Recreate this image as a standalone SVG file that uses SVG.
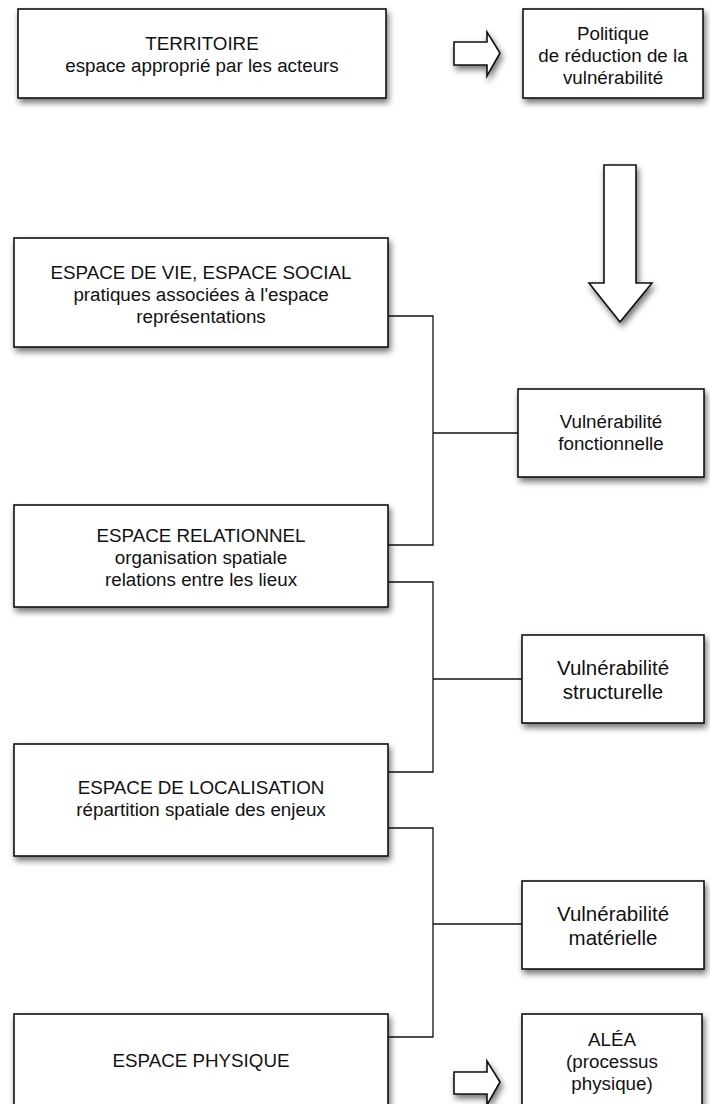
<svg xmlns="http://www.w3.org/2000/svg" width="710" height="1104" viewBox="0 0 710 1104">
<style>
.box{fill:#fff;stroke:#111;stroke-width:1.6;filter:url(#sh)}
.arr{fill:#fff;stroke:#111;stroke-width:1.6;stroke-linejoin:miter;filter:url(#sh)}
.t{font-family:"Liberation Sans",Arial,sans-serif;font-size:18.8px;fill:#111;text-anchor:middle}
.tl{font-family:"Liberation Sans",Arial,sans-serif;font-size:20.5px;fill:#111;text-anchor:middle}
.con{fill:none;stroke:#111;stroke-width:1.3}
</style>
<defs>
<filter id="sh" x="-20%" y="-20%" width="140%" height="150%">
<feDropShadow dx="2" dy="4" stdDeviation="3" flood-color="#000" flood-opacity="0.55"/>
</filter>
</defs>
<rect width="710" height="1104" fill="#fff"/>
<g id="connectors">
<polyline class="con" points="388,316 433,316 433,545 388,545"/>
<line class="con" x1="433" y1="433" x2="518" y2="433"/>
<polyline class="con" points="388,582 433,582 433,772 388,772"/>
<line class="con" x1="433" y1="679" x2="522" y2="679"/>
<polyline class="con" points="388,828 433,828 433,1037 388,1037"/>
<line class="con" x1="433" y1="924" x2="522" y2="924"/>
</g>
<g id="territoire">
<rect class="box" x="18" y="9" width="368" height="89"/>
<text class="t" x="202" y="50">TERRITOIRE</text>
<text class="t" x="202" y="72">espace approprié par les acteurs</text>
</g>
<g id="arrow-top">
<polygon class="arr" points="454,42 487,42 487,32 500,53 487,76 487,65 454,65"/>
</g>
<g id="politique">
<rect class="box" x="523" y="9" width="180" height="89"/>
<text class="t" x="613" y="40">Politique</text>
<text class="t" x="613" y="62">de réduction de la</text>
<text class="t" x="613" y="84">vulnérabilité</text>
</g>
<g id="arrow-down">
<polygon class="arr" points="604,165 636,165 636,283 652,283 620,322 589,283 604,283"/>
</g>
<g id="espace-vie">
<rect class="box" x="14" y="238" width="374" height="109"/>
<text class="t" x="201" y="279">ESPACE DE VIE, ESPACE SOCIAL</text>
<text class="t" x="201" y="301">pratiques associées à l'espace</text>
<text class="t" x="201" y="323">représentations</text>
</g>
<g id="vuln-fonctionnelle">
<rect class="box" x="518" y="389" width="186" height="88"/>
<text class="t" x="611" y="428">Vulnérabilité</text>
<text class="t" x="611" y="450">fonctionnelle</text>
</g>
<g id="espace-relationnel">
<rect class="box" x="14" y="505" width="374" height="102"/>
<text class="t" x="201" y="542">ESPACE RELATIONNEL</text>
<text class="t" x="201" y="564">organisation spatiale</text>
<text class="t" x="201" y="586">relations entre les lieux</text>
</g>
<g id="vuln-structurelle">
<rect class="box" x="522" y="635" width="182" height="88"/>
<text class="tl" x="613" y="675">Vulnérabilité</text>
<text class="tl" x="613" y="699">structurelle</text>
</g>
<g id="espace-localisation">
<rect class="box" x="14" y="744" width="374" height="112"/>
<text class="t" x="201" y="794">ESPACE DE LOCALISATION</text>
<text class="t" x="201" y="816">répartition spatiale des enjeux</text>
</g>
<g id="vuln-materielle">
<rect class="box" x="522" y="881" width="182" height="88"/>
<text class="tl" x="613" y="921">Vulnérabilité</text>
<text class="tl" x="613" y="945">matérielle</text>
</g>
<g id="espace-physique">
<rect class="box" x="14" y="1014" width="374" height="94"/>
<text class="t" x="201" y="1067">ESPACE PHYSIQUE</text>
</g>
<g id="arrow-bottom">
<polygon class="arr" points="454,1072 487,1072 487,1061 500,1082 487,1105 487,1094 454,1094"/>
</g>
<g id="alea">
<rect class="box" x="522" y="1014" width="180" height="94"/>
<text class="t" x="612" y="1046">ALÉA</text>
<text class="t" x="612" y="1068">(processus</text>
<text class="t" x="612" y="1090">physique)</text>
</g>
</svg>
